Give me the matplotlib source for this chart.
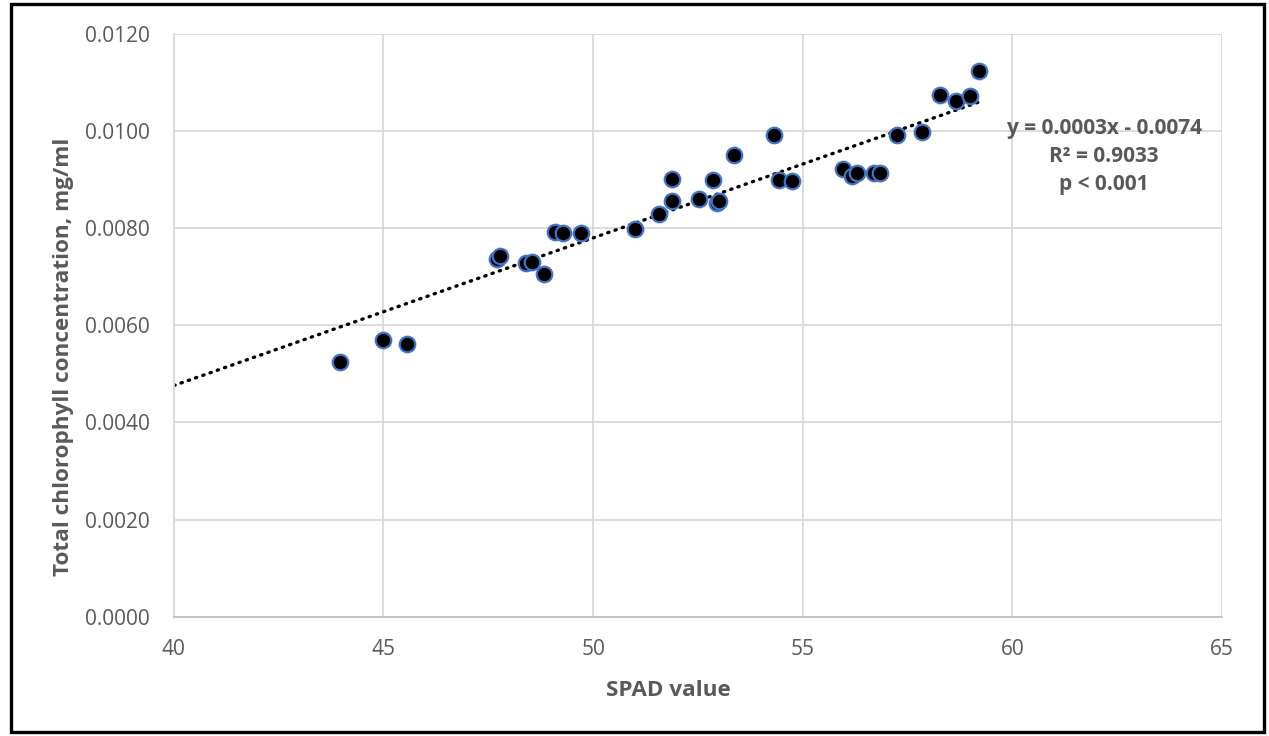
import numpy as np
import matplotlib
matplotlib.use("Agg")
import matplotlib.pyplot as plt
from matplotlib.patches import Rectangle

plt.rcParams['font.family'] = ['Open Sans', 'DejaVu Sans']

# SPAD readings and measured total chlorophyll (mg/ml)
spad = [43.96, 44.99, 45.55, 47.70, 47.78, 48.39, 48.55, 48.84, 49.10, 49.29,
        49.71, 51.00, 51.57, 51.89, 51.89, 52.53, 52.87, 52.95, 53.00, 53.37,
        54.32, 54.44, 54.74, 55.97, 56.18, 56.30, 56.70, 56.84, 57.24, 57.85,
        58.27, 58.65, 59.00, 59.21]
chlorophyll = [0.00525, 0.00569, 0.00561, 0.00736, 0.00742, 0.00728, 0.00731,
               0.00705, 0.00792, 0.00790, 0.00790, 0.00799, 0.00829, 0.00856,
               0.00902, 0.00861, 0.00899, 0.00852, 0.00855, 0.00951, 0.00991,
               0.00899, 0.00898, 0.00922, 0.00908, 0.00913, 0.00914, 0.00913,
               0.00992, 0.00997, 0.01074, 0.01062, 0.01073, 0.01124]

# linear regression coefficients (reported rounded in the equation label)
trend_slope = 0.000304
trend_intercept = -0.00740

x_ticks = [40, 45, 50, 55, 60, 65]
y_ticks = [0.0, 0.002, 0.004, 0.006, 0.008, 0.010, 0.012]
stats_lines = ["y = 0.0003x - 0.0074", "R\u00b2 = 0.9033", "p < 0.001"]

grey_text = "#595959"
grid_col = "#D9D9D9"

fig = plt.figure(figsize=(12.69, 7.36), dpi=100)
ax = fig.add_axes([0.137, 0.162, 0.826, 0.792])

x = np.array(spad)
y = np.array(chlorophyll)

# dotted trend line, extended back to the left edge of the axis
xt = np.array([x_ticks[0], x.max()])
ax.plot(xt, trend_slope * xt + trend_intercept, color="black", linewidth=2.4,
        linestyle=(0, (0.4, 1.9)), dash_capstyle="round", zorder=2)

ax.scatter(x, y, s=125, facecolor="black", edgecolor="#4472C4",
           linewidth=1.6, zorder=3)

ax.set_xlim(x_ticks[0], x_ticks[-1])
ax.set_ylim(y_ticks[0], y_ticks[-1])
ax.set_xticks(x_ticks)
ax.set_yticks(y_ticks)
ax.set_yticklabels([f"{v:.4f}" for v in y_ticks])
ax.grid(True, color=grid_col, linewidth=1.3)
ax.set_axisbelow(True)
ax.tick_params(length=0, labelsize=15, labelcolor=grey_text)
ax.tick_params(axis="x", pad=16)
ax.tick_params(axis="y", pad=17)
for side in ["top", "right"]:
    ax.spines[side].set_visible(False)
ax.spines["left"].set_color(grid_col)
ax.spines["left"].set_linewidth(1.3)
ax.spines["bottom"].set_color("#BFBFBF")
ax.spines["bottom"].set_linewidth(1.3)

ax.set_xlabel("SPAD value", fontsize=16.2, fontweight="bold", color=grey_text)
ax.set_ylabel("Total chlorophyll concentration, mg/ml", fontsize=16.2,
              fontweight="bold", color=grey_text)
ax.xaxis.set_label_coords(0.472, -0.108)
ax.yaxis.set_label_coords(-0.095, 0.446)

# regression statistics, one centred line each
for text, ty in zip(stats_lines, [0.01006, 0.00947, 0.00889]):
    ax.text(62.19, ty, text, ha="center", va="center",
            fontsize=15, fontweight="bold", color=grey_text)

# black frame around the whole chart
fig.patches.append(Rectangle((11 / 1269, 4 / 736), 1253 / 1269, 728 / 736,
                             transform=fig.transFigure, fill=False,
                             edgecolor="black", linewidth=2.4))

fig.savefig("out.png", dpi=100, facecolor="white")
